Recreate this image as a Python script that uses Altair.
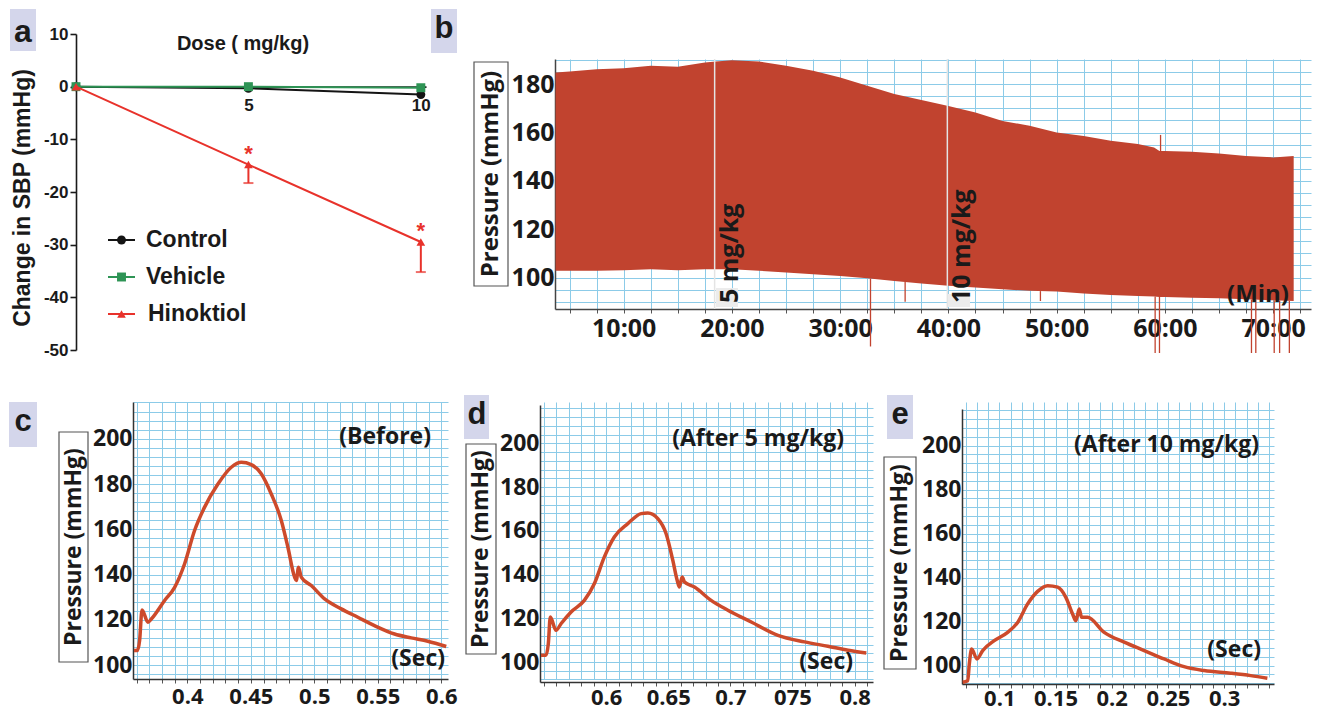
import altair as alt
import pandas as pd

# ---------------- data ----------------
# Panel a
dose = [0, 5, 10]
series_names = ["Control", "Vehicle", "Hinoktiol"]
control_sbp = [0.0, -0.3, -1.5]
vehicle_sbp = [0.0, 0.0, -0.2]
hinoktiol_sbp = [0.0, -14.8, -29.5]
hinoktiol_low = [0.0, -18.3, -35.2]
sig_dose = [5, 10]
sig_pos = [-12.8, -27.4]
a_yticks = [-50, -40, -30, -20, -10, 0, 10]
a_xticks = [0, 5, 10]

# Panel b (envelope of the pressure trace)
b_time = [3.7, 5.0, 7.5, 10.0, 12.5, 15.0, 17.5, 18.5, 20.0, 22.5, 25.0, 27.5, 30.0, 32.5, 35.0, 37.5,
          40.0, 42.5, 45.0, 47.5, 50.0, 52.5, 55.0, 57.5, 59.0, 59.5, 60.0, 62.5, 65.0, 67.5, 70.0, 71.9]
b_upper = [184.8, 185.2, 186.2, 186.6, 187.6, 187.2, 189.0, 189.4, 189.9, 189.4, 187.6, 185.5, 182.8, 179.3,
           175.9, 173.4, 171.0, 168.3, 164.8, 162.8, 160.0, 158.6, 156.6, 155.2, 153.8, 152.4, 152.4, 152.0,
           151.3, 150.3, 149.7, 150.3]
b_lower = [102.8, 102.8, 102.8, 103.0, 103.4, 103.0, 103.4, 103.4, 103.4, 102.8, 102.1, 101.4, 100.7, 99.7,
           98.6, 97.5, 96.6, 95.9, 95.2, 94.5, 94.2, 93.4, 92.8, 92.4, 92.2, 92.0, 92.0, 91.7, 91.4, 91.0,
           90.6, 90.3]
b_spike_time = [32.8, 36.0, 48.5, 59.1, 59.5, 59.6, 68.0, 68.4, 70.1, 70.6, 71.5]
b_spike_top = [99.6, 98.2, 94.4, 92.2, 92.0, 159.0, 90.9, 90.9, 90.6, 90.5, 90.4]
b_spike_bottom = [71.5, 90.0, 90.3, 68.8, 68.8, 152.0, 68.8, 68.8, 68.8, 68.8, 68.8]
b_dose_time = [18.4, 39.9]
b_dose_text = ["5 mg/kg", "10 mg/kg"]
b_xtick_vals = [10, 20, 30, 40, 50, 60, 70]
b_xtick_text = ["10:00", "20:00", "30:00", "40:00", "50:00", "60:00", "70:00"]
b_ytick_vals = [100, 120, 140, 160, 180]

# Panels c, d, e (single pulse waveforms)
c_time = [0.3580, 0.3606, 0.3624, 0.3643, 0.3690, 0.3716, 0.3821, 0.3900, 0.3978, 0.4057, 0.4136, 0.4241,
          0.4346, 0.4425, 0.4503, 0.4582, 0.4661, 0.4740, 0.4792, 0.4845, 0.4858, 0.4876, 0.4897, 0.4976,
          0.5081, 0.5212, 0.5343, 0.5474, 0.5632, 0.5763, 0.5894, 0.6039]
c_pressure = [106.5, 106.5, 110.9, 124.4, 119.0, 120.4, 128.6, 134.4, 144.7, 159.5, 169.8, 180.0, 187.4,
              189.6, 188.6, 184.5, 175.6, 163.9, 152.1, 138.9, 137.4, 143.3, 138.9, 135.2, 129.3, 124.9,
              121.2, 117.5, 113.8, 112.1, 110.6, 108.3]
d_time = [0.5476, 0.5516, 0.5535, 0.5551, 0.5597, 0.5637, 0.5718, 0.5825, 0.5905, 0.5986, 0.6066, 0.6175,
          0.6282, 0.6336, 0.6416, 0.6483, 0.6537, 0.6572, 0.6590, 0.6612, 0.6631, 0.6711, 0.6845, 0.6980,
          0.7168, 0.7383, 0.7597, 0.7785, 0.7947, 0.8094]
d_pressure = [103.1, 103.1, 108.4, 120.6, 114.5, 117.5, 122.9, 128.2, 135.8, 148.1, 157.2, 163.3, 167.9,
              168.2, 165.6, 158.7, 146.5, 137.4, 134.3, 138.9, 136.6, 134.3, 128.2, 123.7, 118.3, 112.2,
              109.2, 107.2, 105.4, 104.1]
e_time = [0.0674, 0.0719, 0.0733, 0.0754, 0.0801, 0.0852, 0.0955, 0.1074, 0.1163, 0.1252, 0.1341, 0.1430,
          0.1519, 0.1592, 0.1652, 0.1681, 0.1711, 0.1732, 0.1785, 0.1933, 0.2111, 0.2289, 0.2466, 0.2644,
          0.2822, 0.3059, 0.3237, 0.3385]
e_pressure = [92.4, 93.1, 100.7, 107.5, 103.0, 106.8, 111.3, 115.1, 119.6, 128.0, 133.7, 136.3, 135.6,
              131.0, 123.4, 120.4, 125.7, 121.9, 121.9, 115.1, 110.6, 106.8, 103.0, 99.5, 97.7, 96.5,
              95.4, 94.2]
c_xtick_vals = [0.4, 0.45, 0.5, 0.55, 0.6]
c_xtick_text = ["0.4", "0.45", "0.5", "0.55", "0.6"]
d_xtick_vals = [0.6, 0.65, 0.7, 0.75, 0.8]
d_xtick_text = ["0.6", "0.65", "0.7", "075", "0.8"]
e_xtick_vals = [0.1, 0.15, 0.2, 0.25, 0.3]
e_xtick_text = ["0.1", "0.15", "0.2", "0.25", "0.3"]
wave_ytick_vals = [100, 120, 140, 160, 180, 200]

# ---------------- styles ----------------
ARIAL = "Liberation Sans"
SEGOE = "Open Sans"
INK = "#1a1a1a"
GRID = "#8ccbe8"
TRACE = "#c1432f"
WAVE = "#cd4a2b"
LAVENDER = "#d4d6eb"
RED = "#e8322b"
series_colors = ["#141414", "#2e9455", RED]
series_shapes = ["circle", "square", "triangle-up"]
series_sizes = [80, 80, 75]

one = pd.DataFrame({"k": [0]})


class Deco:
    """Decorations placed in page pixels, converted to the panel's plot-area pixels."""

    def __init__(self, ox, oy):
        self.ox, self.oy = ox, oy

    def text(self, s, x, y, size, font=SEGOE, align="center", baseline="middle", angle=None, color=INK):
        kw = dict(text=s, font=font, fontSize=size, fontWeight="bold", align=align, baseline=baseline,
                  color=color)
        if angle is not None:
            kw["angle"] = angle
        return alt.Chart(one).mark_text(**kw).encode(x=alt.value(x - self.ox), y=alt.value(y - self.oy))

    def rect(self, x0, x1, y0, y1, fill=None, stroke=None):
        if fill is not None:
            m = alt.Chart(one).mark_rect(color=fill)
        elif stroke is not None:
            m = alt.Chart(one).mark_rect(fillOpacity=0, stroke=stroke, strokeWidth=1.2)
        else:
            m = alt.Chart(one).mark_rect(opacity=0)
        return m.encode(x=alt.value(x0 - self.ox), x2=alt.value(x1 - self.ox),
                        y=alt.value(y0 - self.oy), y2=alt.value(y1 - self.oy))


def label_expr(vals, texts, mult):
    parts = [f"round(datum.value*{mult})=={round(v * mult)} ? '{t}' : " for v, t in zip(vals, texts)]
    return "".join(parts) + "''"


def spacer(w, h=1, frame=None):
    layers = [alt.Chart(one).mark_rect(opacity=0).encode(
        x=alt.value(0), x2=alt.value(w), y=alt.value(0), y2=alt.value(h))]
    if frame is not None:
        layers.append(frame)
    return alt.layer(*layers).properties(width=w, height=h)


# ---------------- panel a ----------------
A_OX, A_OY, A_W, A_H = 75, 58, 350, 291
A_TOP = -25  # pixel where y=10 sits (page y 33)
a_px_per_unit = (A_H - A_TOP) / 60.0
a_zero_px = A_H - 50 * a_px_per_unit
da = Deco(A_OX, A_OY)
a_xscale = alt.Scale(domain=[0, 10.15], nice=False, zero=False)
a_yscale = alt.Scale(domain=[-50, 10], range=[A_H, A_TOP], nice=False, zero=False)
a_xaxis = alt.Axis(values=a_xticks, labelExpr="datum.value == 0 ? '' : datum.label", title=None, grid=False,
                   offset=-(A_H - a_zero_px), domainColor=INK, domainWidth=1.6, tickColor=INK, tickSize=4,
                   tickWidth=1.5, labelFont=ARIAL, labelFontSize=17, labelFontWeight="bold", labelColor=INK,
                   labelPadding=7, labelFlush=False)
a_yaxis = alt.Axis(values=a_yticks, labelExpr="datum.value < 0 ? '-' + abs(datum.value) : '' + datum.value",
                   title=None, grid=False, domainColor=INK, domainWidth=1.6, tickColor=INK,
                   tickWidth=1.6, tickSize=6, labelFont=ARIAL, labelFontSize=17, labelFontWeight="bold",
                   labelColor=INK, labelPadding=2)


def xa(field="dose"):
    return alt.X(f"{field}:Q", scale=a_xscale, axis=a_xaxis)


def ya(field="value"):
    return alt.Y(f"{field}:Q", scale=a_yscale, axis=a_yaxis)


a_layers = [da.rect(8, 425, 8, 370)]
err_df = pd.DataFrame({"dose": dose[1:], "value": hinoktiol_sbp[1:], "low": hinoktiol_low[1:]})
a_layers.append(alt.Chart(err_df).mark_rule(color=RED, strokeWidth=2).encode(x=xa(), y=ya(), y2="low:Q"))
a_layers.append(alt.Chart(err_df).mark_tick(color=RED, orient="horizontal", size=10, thickness=2)
                .encode(x=xa(), y=ya("low")))
series_vals = [control_sbp, vehicle_sbp, hinoktiol_sbp]
for name, vals, col, shp, sz in zip(series_names, series_vals, series_colors, series_shapes, series_sizes):
    df = pd.DataFrame({"dose": dose, "value": vals})
    a_layers.append(alt.Chart(df).mark_line(color=col, strokeWidth=2).encode(x=xa(), y=ya()))
    a_layers.append(alt.Chart(df).mark_point(shape=shp, filled=True, size=sz, color=col, opacity=1)
                    .encode(x=xa(), y=ya()))
sig_df = pd.DataFrame({"dose": sig_dose, "sig": sig_pos})
a_layers.append(alt.Chart(sig_df).mark_text(text="*", color=RED, fontSize=22, font=ARIAL, fontWeight="bold")
                .encode(x=xa(), y=ya("sig")))
# legend (page pixels)
for i, (name, col, shp, sz) in enumerate(zip(series_names, series_colors, series_shapes, series_sizes)):
    yp = [239, 276, 313][i] - A_OY
    a_layers.append(alt.Chart(one).mark_rule(color=col, strokeWidth=2)
                    .encode(x=alt.value(107 - A_OX), x2=alt.value(134 - A_OX), y=alt.value(yp)))
    a_layers.append(alt.Chart(one).mark_point(shape=shp, filled=True, size=sz, color=col, opacity=1)
                    .encode(x=alt.value(120.5 - A_OX), y=alt.value(yp)))
    a_layers.append(da.text(name, 145 + (2 if i == 2 else 0), yp + A_OY, 23, font=ARIAL, align="left"))
a_layers += [
    da.text("Dose ( mg/kg)", 242, 43, 20, font=ARIAL),
    da.text("Change in SBP (mmHg)", 22, 197, 23, font=ARIAL, angle=270),
    da.rect(9, 35, 8, 50, fill=LAVENDER),
    da.text("a", 22, 31, 32, font=ARIAL),
]
panel_a = alt.layer(*a_layers).properties(width=A_W, height=A_H)

# ---------------- panel b ----------------
B_OX, B_OY, B_W, B_H = 554, 58, 756, 250
db = Deco(B_OX, B_OY)
b_xscale = alt.Scale(domain=[3.65, 73.5], nice=False, zero=False)
b_yscale = alt.Scale(domain=[87, 190.4], nice=False, zero=False)
b_xaxis = alt.Axis(values=[5 + 2.5 * i for i in range(28)],
                   labelExpr=label_expr(b_xtick_vals, b_xtick_text, 1), title=None, grid=True,
                   gridColor=GRID, gridWidth=1, domainColor="#444", domainWidth=1.5, tickColor="#555",
                   tickSize=4, labelFont=SEGOE, labelFontSize=25, labelFontWeight="bold", labelColor=INK,
                   labelPadding=3, labelOverlap=False, labelFlush=False)
b_yaxis = alt.Axis(values=[90 + 5 * i for i in range(21)],
                   labelExpr=label_expr(b_ytick_vals, [str(v) for v in b_ytick_vals], 1), title=None,
                   grid=True, gridColor=GRID, gridWidth=1, domainColor="#444", domainWidth=1.5, ticks=False,
                   labelFont=SEGOE, labelFontSize=25, labelFontWeight="bold", labelColor=INK, labelPadding=1,
                   labelOverlap=False, labelFlush=False)
xb = alt.X("time:Q", scale=b_xscale, axis=b_xaxis)


def yb(field):
    return alt.Y(f"{field}:Q", scale=b_yscale, axis=b_yaxis)


b_df = pd.DataFrame({"time": b_time, "upper": b_upper, "lower": b_lower})
spike_df = pd.DataFrame({"time": b_spike_time, "upper": b_spike_top, "lower": b_spike_bottom})
dose_df = pd.DataFrame({"time": b_dose_time, "label": b_dose_text})
b_layers = [
    alt.Chart(b_df).mark_area(color=TRACE, opacity=1).encode(x=xb, y=yb("upper"), y2="lower:Q"),
    alt.Chart(spike_df).mark_rule(color=TRACE, strokeWidth=1.3).encode(x=xb, y=yb("upper"), y2="lower:Q"),
    alt.Chart(dose_df).mark_rule(color="#e4e4e4", strokeWidth=1.5).encode(x=xb, y=alt.value(0),
                                                                          y2=alt.value(B_H)),
    db.rect(715, 737, 287, 306, fill="#ececec"),
    db.rect(947, 969, 293, 306, fill="#ececec"),
    alt.Chart(dose_df).mark_text(angle=270, align="left", baseline="top", dy=3, font=SEGOE, fontSize=25,
                                 fontWeight="bold", color=INK).encode(x=xb, y=alt.value(302 - B_OY),
                                                                      text="label:N"),
    db.text("(Min)", 1288, 294, 24, align="right"),
    db.rect(473, 507, 61, 285, stroke="#555"),
    db.text("Pressure (mmHg)", 490, 173, 24, angle=270),
    db.rect(430, 456, 8, 52, fill=LAVENDER),
    db.text("b", 443, 28, 31, font=ARIAL),
]
panel_b = alt.layer(*b_layers).properties(width=B_W, height=B_H)

# ---------------- panels c, d, e ----------------
ROW2_Y = 395


def wave_panel(t, p, ox, top, W, bottom, xdom, ydom, xvals, xtexts, letter, lbox, lpos, ybox, ypos,
               title, tpos, spos, lab_pad):
    H = bottom - ROW2_Y
    d = Deco(ox, ROW2_Y)
    x0 = round(xdom[0] + 0.005, 2)
    nx = int(round((xdom[1] - x0) / 0.01)) + 1
    xgrid = [round(x0 + 0.01 * i, 2) for i in range(nx)]
    y0 = 4 * (int(ydom[0]) // 4 + 1)
    ygrid = list(range(y0, int(ydom[1]) + 1, 4))
    xaxis = alt.Axis(values=xgrid, labelExpr=label_expr(xvals, xtexts, 100), title=None, grid=True,
                     gridColor=GRID, gridWidth=1, domainColor="#333", domainWidth=1.5, tickColor="#555",
                     tickSize=4, labelFont=SEGOE, labelFontSize=22, labelFontWeight="bold", labelColor=INK,
                     labelPadding=lab_pad, labelOverlap=False, labelFlush=False)
    yaxis = alt.Axis(values=ygrid, labelExpr=label_expr(wave_ytick_vals, [str(v) for v in wave_ytick_vals], 1),
                     title=None, grid=True, gridColor=GRID, gridWidth=1, domainColor="#333", domainWidth=1.5,
                     ticks=False, labelFont=SEGOE, labelFontSize=23, labelFontWeight="bold", labelColor=INK,
                     labelPadding=1, labelOverlap=False, labelFlush=False)
    df = pd.DataFrame({"t": t, "p": p})
    layers = [
        d.rect(ox - 70, ox, 700, 707),
        alt.Chart(df).mark_line(color=WAVE, strokeWidth=3.5, interpolate="monotone").encode(
            x=alt.X("t:Q", scale=alt.Scale(domain=xdom, nice=False, zero=False), axis=xaxis),
            y=alt.Y("p:Q", scale=alt.Scale(domain=ydom, range=[H, top - ROW2_Y], nice=False, zero=False),
                    axis=yaxis)),
        d.text(title, tpos[0], tpos[1], 23, align="right"),
        d.text("(Sec)", spos[0], spos[1], 23, align="right"),
        d.rect(*ybox, stroke="#555"),
        d.text("Pressure (mmHg)", ypos[0], ypos[1], 23, angle=270),
        d.rect(*lbox, fill=LAVENDER),
        d.text(letter, lpos[0], lpos[1], 31, font=ARIAL),
    ]
    return alt.layer(*layers).properties(width=W, height=H)


panel_c = wave_panel(c_time, c_pressure, 132, 395, 315, 672, [0.3572, 0.6053], [93.95, 216.2],
                     c_xtick_vals, c_xtick_text, "c", (8, 36, 395, 440), (22, 415), (58, 87, 425, 655),
                     (72.5, 540), "(Before)", (430, 430), (444, 652), 3)
panel_d = wave_panel(d_time, d_pressure, 539, 398, 333, 675, [0.5468, 0.8148], [90.85, 217.6],
                     d_xtick_vals, d_xtick_text, "d", (463, 488, 388, 432), (476, 408), (465, 495, 437, 647),
                     (480, 542), "(After 5 mg/kg)", (843, 432), (852, 655), 1)
panel_e = wave_panel(e_time, e_pressure, 961, 402, 312, 677, [0.0668, 0.3444], [91.6, 216.6],
                     e_xtick_vals, e_xtick_text, "e", (886, 912, 388, 432), (899, 408), (883, 915, 450, 662),
                     (899, 556), "(After 10 mg/kg)", (1258, 438), (1260, 643), 0)

# ---------------- layout ----------------
row2_frame = Deco(A_OX, ROW2_Y).rect(8, 132, 370, 395)
row1 = alt.hconcat(panel_a, spacer(B_OX - A_OX - A_W), panel_b, spacing=0, bounds="flush")
row2 = alt.hconcat(spacer(132 - A_OX, frame=row2_frame), panel_c, spacer(539 - 132 - 315), panel_d,
                   spacer(961 - 539 - 333), panel_e, spacing=0, bounds="flush")
chart = (alt.vconcat(row1, row2, spacing=0)
         .properties(padding=0)
         .configure_view(stroke="transparent"))

chart.save("out.html", embed_options={"renderer": "svg", "actions": False})
